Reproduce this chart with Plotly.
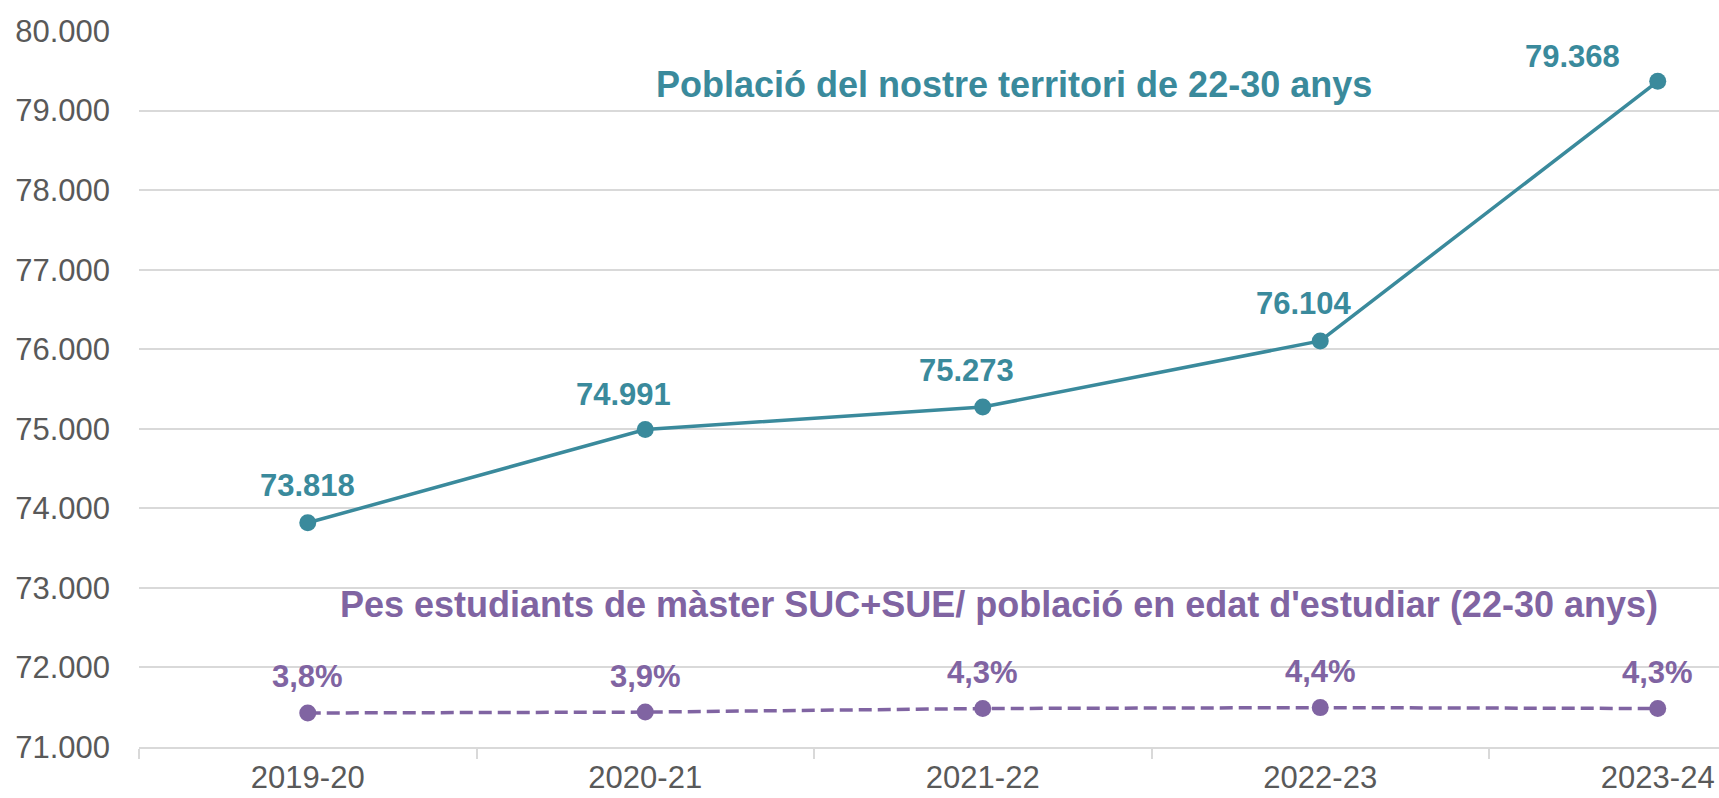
import plotly.graph_objects as go

# ---- data ----
categories = ["2019-20", "2020-21", "2021-22", "2022-23", "2023-24"]
poblacio = [73818, 74991, 75273, 76104, 79368]
pes_master = [0.038, 0.039, 0.043, 0.044, 0.043]
y_ticks = [71000, 72000, 73000, 74000, 75000, 76000, 77000, 78000, 79000, 80000]

title_pob = "Població del nostre territori de 22-30 anys"
title_pes = "Pes estudiants de màster SUC+SUE/ població en edat d'estudiar (22-30 anys)"

TEAL = "#3A8A9C"
PURPLE = "#8064A2"
GRID = "#D9D9D9"
TICK = "#595959"
FONT = "Liberation Sans, Arial, sans-serif"

def fmt_int(v):
    return f"{v:,}".replace(",", ".")

def fmt_pct(p):
    return f"{p*100:.1f}".replace(".", ",") + "%"

fig = go.Figure()

fig.add_trace(go.Scatter(
    x=categories, y=poblacio, mode="lines+markers",
    line=dict(color=TEAL, width=3.5),
    marker=dict(color=TEAL, size=17),
    hoverinfo="skip", showlegend=False, yaxis="y", cliponaxis=False,
))
fig.add_trace(go.Scatter(
    x=categories, y=pes_master, mode="lines+markers",
    line=dict(color=PURPLE, width=3.5, dash="13px,6px"),
    marker=dict(color=PURPLE, size=17),
    hoverinfo="skip", showlegend=False, yaxis="y2", cliponaxis=False,
))

# label offsets (style only)
pob_xshift = [0, -22, -16, -16, -85]
pob_yshift = [37, 35, 37, 37, 25]

annotations = []
for i, (c, v) in enumerate(zip(categories, poblacio)):
    annotations.append(dict(
        x=c, y=v, xref="x", yref="y", text=fmt_int(v), showarrow=False,
        xanchor="center", yanchor="middle", xshift=pob_xshift[i], yshift=pob_yshift[i],
        font=dict(family=FONT, size=31, color=TEAL, weight="bold"),
    ))
for i, (c, p) in enumerate(zip(categories, pes_master)):
    annotations.append(dict(
        x=c, y=p, xref="x", yref="y2", text=fmt_pct(p), showarrow=False,
        xanchor="center", yanchor="middle", yshift=36,
        font=dict(family=FONT, size=31, color=PURPLE, weight="bold"),
    ))
annotations.append(dict(
    x=0.5538, y=0.9246, xref="paper", yref="paper", text=title_pob, showarrow=False,
    xanchor="center", yanchor="middle",
    font=dict(family=FONT, size=36, color=TEAL, weight="bold"),
))
annotations.append(dict(
    x=0.5443, y=0.199, xref="paper", yref="paper", text=title_pes, showarrow=False,
    xanchor="center", yanchor="middle",
    font=dict(family=FONT, size=36, color=PURPLE, weight="bold"),
))

fig.update_layout(
    width=1719, height=798,
    margin=dict(l=139, r=0, t=31, b=51, autoexpand=False),
    paper_bgcolor="white", plot_bgcolor="white",
    separators=",.",
    font=dict(family=FONT, size=31, color=TICK),
    annotations=annotations,
    xaxis=dict(
        type="category", categoryorder="array", categoryarray=categories,
        range=[-0.5, 4.1815], showgrid=False, zeroline=False,
        showline=True, linecolor=GRID, linewidth=2,
        ticks="outside", tickson="boundaries", ticklen=10, tickcolor=GRID, tickwidth=2,
        tickfont=dict(family=FONT, size=31, color=TICK),
        ticklabelstandoff=2, automargin=False,
    ),
    yaxis=dict(
        range=[71000, 80000], tickvals=y_ticks, tickformat=",d",
        showgrid=True, gridcolor=GRID, gridwidth=2, zeroline=False,
        showline=False, ticks="", ticklabelstandoff=28,
        tickfont=dict(family=FONT, size=31, color=TICK), automargin=False,
    ),
    yaxis2=dict(
        range=[0, 0.8], overlaying="y", side="right", visible=False,
        showgrid=False, zeroline=False,
    ),
)

fig.write_html(
    "out.html",
    config={"displayModeBar": False},
    post_script="document.body.style.margin='0';document.body.style.padding='0';",
)
